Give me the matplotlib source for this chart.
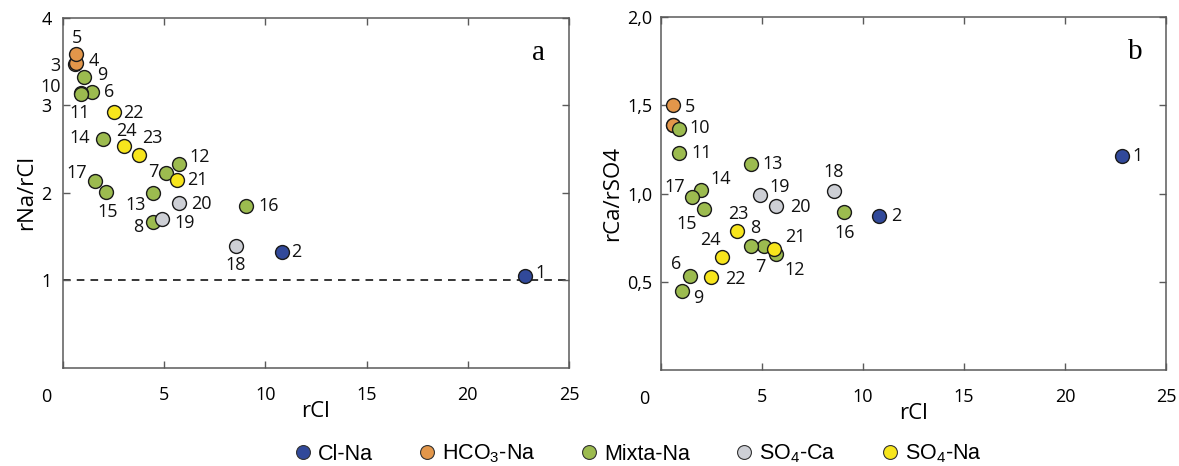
import matplotlib
matplotlib.use("Agg")
import matplotlib.pyplot as plt
from matplotlib.lines import Line2D

# ---------------- data ----------------
samples = list(range(1, 25))
rCl = [22.85, 10.8, 0.60, 0.62, 0.62, 1.44, 5.08, 4.45, 1.05, 0.89, 0.87, 5.72,
       4.47, 1.97, 2.14, 9.05, 1.56, 8.55, 4.89, 5.72, 5.62, 2.50, 3.78, 3.03]
rNa_rCl = [1.05, 1.32, 3.47, 3.48, 3.59, 3.15, 2.23, 1.67, 3.33, 3.14, 3.13, 2.33,
           2.00, 2.62, 2.01, 1.85, 2.14, 1.39, 1.70, 1.89, 2.15, 2.93, 2.43, 2.54]
rCa_rSO4 = [1.21, 0.87, 1.39, 1.39, 1.50, 0.53, 0.70, 0.70, 0.45, 1.365, 1.23, 0.66,
            1.17, 1.02, 0.91, 0.895, 0.98, 1.015, 0.99, 0.93, 0.685, 0.525, 0.79, 0.64]
facies = ["Cl-Na", "Cl-Na", "HCO3-Na", "HCO3-Na", "HCO3-Na"] + ["Mixta-Na"] * 12 + \
         ["SO4-Ca"] * 3 + ["SO4-Na"] * 4
group_order = ["Cl-Na", "HCO3-Na", "Mixta-Na", "SO4-Ca", "SO4-Na"]
group_labels = ["Cl-Na", r"HCO$_3$-Na", "Mixta-Na", r"SO$_4$-Ca", r"SO$_4$-Na"]
draw_order = ["HCO3-Na", "Mixta-Na", "SO4-Ca", "SO4-Na", "Cl-Na"]
x_ticks = [0, 5, 10, 15, 20, 25]
ya_ticks = [1, 2, 3, 4]
yb_ticks = [0.5, 1.0, 1.5, 2.0]
yb_ticklabels = ["0,5", "1,0", "1,5", "2,0"]

# ---------------- styles ----------------
colors = {"Cl-Na": "#31499a", "HCO3-Na": "#e2964a", "Mixta-Na": "#9cbb4f",
          "SO4-Ca": "#cdcfd5", "SO4-Na": "#f7e51c"}

# label offsets in pixels (dx right, dy down)
off_a = {1: (15, -3), 2: (15, 0), 3: (-20, 2), 4: (18, -2), 5: (1, -16), 6: (17, 0),
         7: (-12, -1), 8: (-15, 5), 9: (18, -2), 10: (-30, -6), 11: (-1, 19),
         12: (21, -7), 13: (-18, 12), 14: (-23, -1), 15: (1, 20), 16: (23, 0),
         17: (-18, -8), 18: (0, 19), 19: (23, 4), 20: (23, 1), 21: (21, 0),
         22: (20, 1), 23: (13, -17), 24: (2, -15)}
off_b = {1: (15, 0), 2: (17, 0), 5: (16, 2), 6: (-14, -12), 7: (-3, 21), 8: (4, -18),
         9: (16, 7), 10: (21, -1), 11: (23, 0), 12: (18, 16), 13: (21, 0),
         14: (20, -11), 15: (-18, 15), 16: (1, 21), 17: (-18, -10), 18: (0, -19),
         19: (20, -8), 20: (24, 1), 21: (21, -12), 22: (24, 2), 23: (1, -17),
         24: (-12, -17)}

plt.rcParams["font.family"] = ["Open Sans", "DejaVu Sans"]
plt.rcParams["mathtext.fontset"] = "custom"
plt.rcParams["mathtext.rm"] = "Liberation Sans"
plt.rcParams["mathtext.it"] = "Liberation Sans"

fig = plt.figure(figsize=(11.79, 4.66), dpi=100)
axA = fig.add_axes([0.0534, 0.2103, 0.4292, 0.7511])
axB = fig.add_axes([0.5606, 0.2060, 0.4283, 0.7575])

spine_col = "#5a5a5a"
num_fs = 13


def style_axes(ax, ylim, yticks, yticklabels, ypad):
    ax.set_xlim(0, 25)
    ax.set_ylim(*ylim)
    ax.set_xticks(x_ticks)
    ax.set_xticklabels([""] + [str(t) for t in x_ticks[1:]])
    ax.set_yticks(yticks)
    ax.set_yticklabels(yticklabels)
    for s in ax.spines.values():
        s.set_color(spine_col)
        s.set_linewidth(1.1)
    ax.tick_params(direction="in", length=5, width=1, color=spine_col,
                   top=True, right=True, labelsize=num_fs)
    ax.tick_params(axis="x", pad=13)
    ax.tick_params(axis="y", pad=ypad)
    # "0" label placed slightly left of the origin, as in the reference
    ax.annotate("0", xy=(0, 0), xycoords="axes fraction", xytext=(-17, -20),
                textcoords="offset pixels", ha="center", va="top", fontsize=num_fs)


def scatter_groups(ax, yvals, offsets):
    for g in draw_order:
        idx = [i for i, f in enumerate(facies) if f == g]
        ax.scatter([rCl[i] for i in idx], [yvals[i] for i in idx], s=100,
                   c=colors[g], edgecolors="#1a1a1a", linewidths=1.0, zorder=3)
    for i, smp in enumerate(samples):
        if smp in offsets:
            dx, dy = offsets[smp]
            ax.annotate(str(smp), (rCl[i], yvals[i]), xytext=(dx, -dy),
                        textcoords="offset pixels", ha="center", va="center",
                        fontsize=num_fs, color="#111111", zorder=4)


style_axes(axA, (0, 4), ya_ticks, [str(t) for t in ya_ticks], 8)
style_axes(axB, (0, 2), yb_ticks, yb_ticklabels, 6)

axA.axhline(1, color="black", lw=1.1, ls=(0, (5, 4)), zorder=1)
scatter_groups(axA, rNa_rCl, off_a)
scatter_groups(axB, rCa_rSO4, off_b)

axA.set_xlabel("rCl", fontsize=16, labelpad=-2)
axB.set_xlabel("rCl", fontsize=16, labelpad=-2)
axA.set_ylabel("rNa/rCl", fontsize=16, labelpad=3)
axB.set_ylabel("rCa/rSO4", fontsize=16, labelpad=3)

axA.text(0.94, 0.9, "a", transform=axA.transAxes, fontsize=21,
         family="Liberation Serif", ha="center", va="center")
axB.text(0.94, 0.9, "b", transform=axB.transAxes, fontsize=21,
         family="Liberation Serif", ha="center", va="center")

handles = [Line2D([], [], ls="none", marker="o", markersize=10,
                  markerfacecolor=colors[g], markeredgecolor="#333333",
                  markeredgewidth=0.8) for g in group_order]
fig.legend(handles, group_labels, loc="center", bbox_to_anchor=(0.54, 0.026),
           ncol=5, frameon=False, handletextpad=0.2, columnspacing=2.0,
           handlelength=1.0, prop={"family": "Liberation Sans", "size": 15.5})

fig.savefig("out.png", dpi=100)
